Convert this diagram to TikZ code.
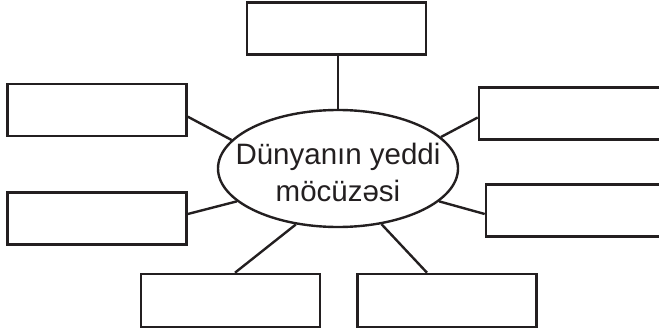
\documentclass[tikz,border=0pt]{standalone}
\usepackage{fontspec}
\setmainfont{Liberation Sans}
\usetikzlibrary{shapes.geometric, positioning}
\usepackage{xcolor}
\definecolor{encre}{HTML}{231F20}

\begin{document}
\begin{tikzpicture}[x=1pt, y=-1pt,
    boite/.style={draw=encre, line width=2.6pt, rectangle, minimum width=179pt, minimum height=52pt, inner sep=0pt},
    bulle/.style={draw=encre, line width=2.4pt, ellipse, minimum width=240pt, minimum height=117pt, inner sep=0pt},
    lien/.style={draw=encre, line width=2.4pt}]
    % Cadre de l'image (les boites de droite sont coupees par le bord)
    \useasboundingbox (0,0) rectangle (659,329);

    % Ellipse centrale avec le titre
    \node[bulle, label={[font=\fontsize{29.5}{36.5}\selectfont, align=center, text=encre, yshift=-4pt]center:Dünyanın yeddi\\möcüzəsi}] (centre) at (338,168.5) {};

    % Boites vides autour
    \node[boite] (haut) at (336.5,28.5) {};
    \node[boite] (gauchehaut) at (97,110) {};
    \node[boite] (gauchebas) at (97,218.5) {};
    \node[boite, minimum width=200pt] (droitehaut) at (579,113.5) {};
    \node[boite, minimum width=200pt] (droitebas) at (586,210.5) {};
    \node[boite, minimum height=53pt] (bassgauche) at (230.5,300.5) {};
    \node[boite, minimum height=53pt] (basdroite) at (447,300.5) {};

    % Traits vers l'ellipse
    \draw[lien] ([xshift=1.5pt]haut.south) -- (centre.north);
    \draw[lien] ([yshift=-6.7pt]gauchehaut.east) -- (centre.165);
    \draw[lien] ([yshift=4.5pt]gauchebas.east) -- (centre.198);
    \draw[lien] ([yshift=-4pt]droitehaut.west) -- (centre.17);
    \draw[lien] ([yshift=-3.5pt]droitebas.west) -- (centre.-18);
    \draw[lien] ([xshift=4.5pt]bassgauche.north) -- (centre.233);
    \draw[lien] ([xshift=-20pt]basdroite.north) -- (centre.-52);
\end{tikzpicture}
\end{document}
